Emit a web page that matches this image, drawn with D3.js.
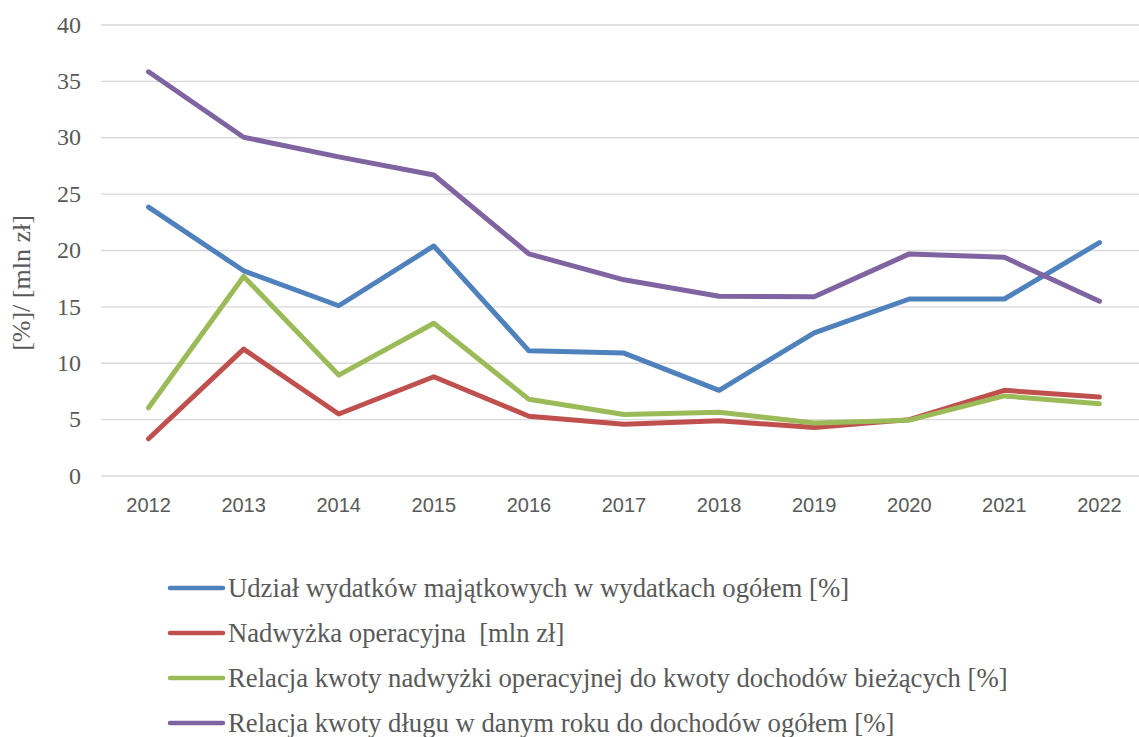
<!DOCTYPE html>
<html>
<head>
<meta charset="utf-8">
<script src="https://cdn.jsdelivr.net/npm/d3@7"></script>
</head>
<body style="margin:0">
<svg id="chart" width="1139" height="737"></svg>
<script>
const years = ['2012', '2013', '2014', '2015', '2016', '2017', '2018', '2019', '2020', '2021', '2022'];
const yTicks = [0, 5, 10, 15, 20, 25, 30, 35, 40];

const seriesNames = [
  'Udział wydatków majątkowych w wydatkach ogółem [%]',
  'Nadwyżka operacyjna  [mln zł]',
  'Relacja kwoty nadwyżki operacyjnej do kwoty dochodów bieżących [%]',
  'Relacja kwoty długu w danym roku do dochodów ogółem [%]'
];
const udzialWydatkow = [23.85, 18.2, 15.1, 20.4, 11.1, 10.9, 7.6, 12.7, 15.7, 15.7, 20.7];
const nadwyzka = [3.3, 11.25, 5.5, 8.8, 5.3, 4.6, 4.9, 4.3, 5.0, 7.6, 7.0];
const relacjaNadwyzki = [6.05, 17.7, 8.95, 13.55, 6.8, 5.45, 5.65, 4.7, 4.95, 7.1, 6.4];
const relacjaDlugu = [35.85, 30.05, 28.3, 26.7, 19.7, 17.4, 15.95, 15.9, 19.7, 19.4, 15.5];
const colors = ['#4f81bd', '#c0504d', '#9bbb59', '#8064a2'];

const allSeries = [udzialWydatkow, nadwyzka, relacjaNadwyzki, relacjaDlugu];

const margin = { top: 25, left: 101, plotRight: 1147, plotBottom: 476 };

const svg = d3.select('#chart');

const x = d3.scaleBand()
  .domain(years)
  .range([margin.left, margin.plotRight]);

const y = d3.scaleLinear()
  .domain([0, 40])
  .range([margin.plotBottom, margin.top]);

// gridlines
svg.append('g')
  .selectAll('line')
  .data(yTicks)
  .enter()
  .append('line')
  .attr('x1', margin.left)
  .attr('x2', margin.plotRight)
  .attr('y1', d => y(d))
  .attr('y2', d => y(d))
  .attr('stroke', '#d9d9d9')
  .attr('stroke-width', 1.3);

// y axis labels
svg.append('g')
  .selectAll('text')
  .data(yTicks)
  .enter()
  .append('text')
  .attr('x', margin.left - 20)
  .attr('y', d => y(d))
  .attr('dy', '0.32em')
  .attr('text-anchor', 'end')
  .attr('fill', '#595959')
  .style('font-family', 'Liberation Serif')
  .style('font-size', '24px')
  .text(d => d);

// x axis labels
svg.append('g')
  .selectAll('text')
  .data(years)
  .enter()
  .append('text')
  .attr('x', d => x(d) + x.bandwidth() / 2)
  .attr('y', margin.plotBottom + 36)
  .attr('text-anchor', 'middle')
  .attr('fill', '#595959')
  .style('font-family', 'Liberation Sans')
  .style('font-size', '20px')
  .text(d => d);

// y title
svg.append('text')
  .attr('transform', 'translate(22, 283) rotate(-90)')
  .attr('text-anchor', 'middle')
  .attr('dy', '0.32em')
  .attr('fill', '#595959')
  .style('font-family', 'Liberation Serif')
  .style('font-size', '26px')
  .text('[%]/ [mln zł]');

const line = d3.line()
  .x((d, i) => x(years[i]) + x.bandwidth() / 2)
  .y(d => y(d));

svg.append('g')
  .selectAll('path')
  .data(allSeries)
  .enter()
  .append('path')
  .attr('d', line)
  .attr('fill', 'none')
  .attr('stroke', (d, i) => colors[i])
  .attr('stroke-width', 5)
  .attr('stroke-linejoin', 'round')
  .attr('stroke-linecap', 'round');

// legend
const legend = svg.append('g')
  .selectAll('g')
  .data(seriesNames)
  .enter()
  .append('g')
  .attr('transform', (d, i) => `translate(170, ${588 + i * 45})`);

legend.append('line')
  .attr('x1', 0)
  .attr('x2', 53)
  .attr('stroke', (d, i) => colors[i])
  .attr('stroke-width', 4.5)
  .attr('stroke-linecap', 'round');

legend.append('text')
  .attr('x', 58)
  .attr('dy', '0.32em')
  .attr('fill', '#595959')
  .style('font-family', 'Liberation Serif')
  .style('font-size', '26.7px')
  .style('white-space', 'pre')
  .text(d => d);
</script>
</body>
</html>
